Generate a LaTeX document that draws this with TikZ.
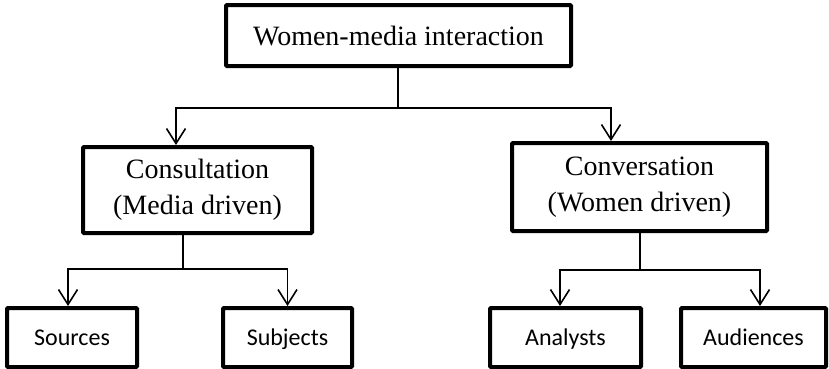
\documentclass[tikz,border=0pt]{standalone}
\usepackage{fontspec}
\setmainfont{Liberation Serif}
\newfontfamily\labelsans{Carlito}
\usetikzlibrary{arrows.meta}

\tikzset{
  box/.style={draw=black, line width=4pt, rounded corners=1pt, fill=white,
              inner sep=0pt, align=center},
  serifbox/.style={box, font=\fontsize{28}{36}\selectfont},
  sansbox/.style={box, font=\labelsans\fontsize{24}{28}\selectfont,
                  text height=20pt, text depth=4.5pt},
  link/.style={draw=black, line width=1.5pt},
  arr/.style={link, -{Straight Barb[length=15pt, width=19pt, line width=1.6pt]}},
}

\begin{document}
\begin{tikzpicture}[x=1pt, y=-1pt]
\useasboundingbox (0,0) rectangle (829,368);

% boxes
\node[serifbox, minimum width=345pt, minimum height=61pt] (top) at (398.5,35.5)
  {Women-media interaction};
\node[serifbox, minimum width=229pt, minimum height=86pt] (cons) at (197.5,190)
  {Consultation\\(Media driven)};
\node[serifbox, minimum width=255pt, minimum height=88pt] (conv) at (639.5,187)
  {Conversation\\(Women driven)};
\node[sansbox, minimum width=130pt, minimum height=59pt] (src) at (72,337.5) {Sources};
\node[sansbox, minimum width=129pt, minimum height=59pt] (subj) at (287.5,337.5) {Subjects};
\node[sansbox, minimum width=151pt, minimum height=59pt] (anal) at (565.5,337.5) {Analysts};
\node[sansbox, minimum width=145pt, minimum height=59pt] (aud) at (753.5,337.5) {Audiences};

% junction points
\coordinate (j0) at (398,108);
\coordinate (j1) at (183,269);
\coordinate (j2) at (640,270);

% top level split
\draw[link] (top.south -| j0) -- (j0);
\draw[arr] (j0) -| ([xshift=-21.5pt]cons.north);
\draw[arr] (j0) -| ([xshift=-28.5pt]conv.north);

% consultation split
\draw[link] (cons.south -| j1) -- (j1);
\draw[arr] (j1) -| ([xshift=-4pt]src.north);
\draw[arr] (j1) -| (subj.north);

% conversation split
\draw[link] (conv.south -| j2) -- (j2);
\draw[arr] (j2) -| ([xshift=-5.5pt]anal.north);
\draw[arr] (j2) -| ([xshift=6.5pt]aud.north);
\end{tikzpicture}
\end{document}
